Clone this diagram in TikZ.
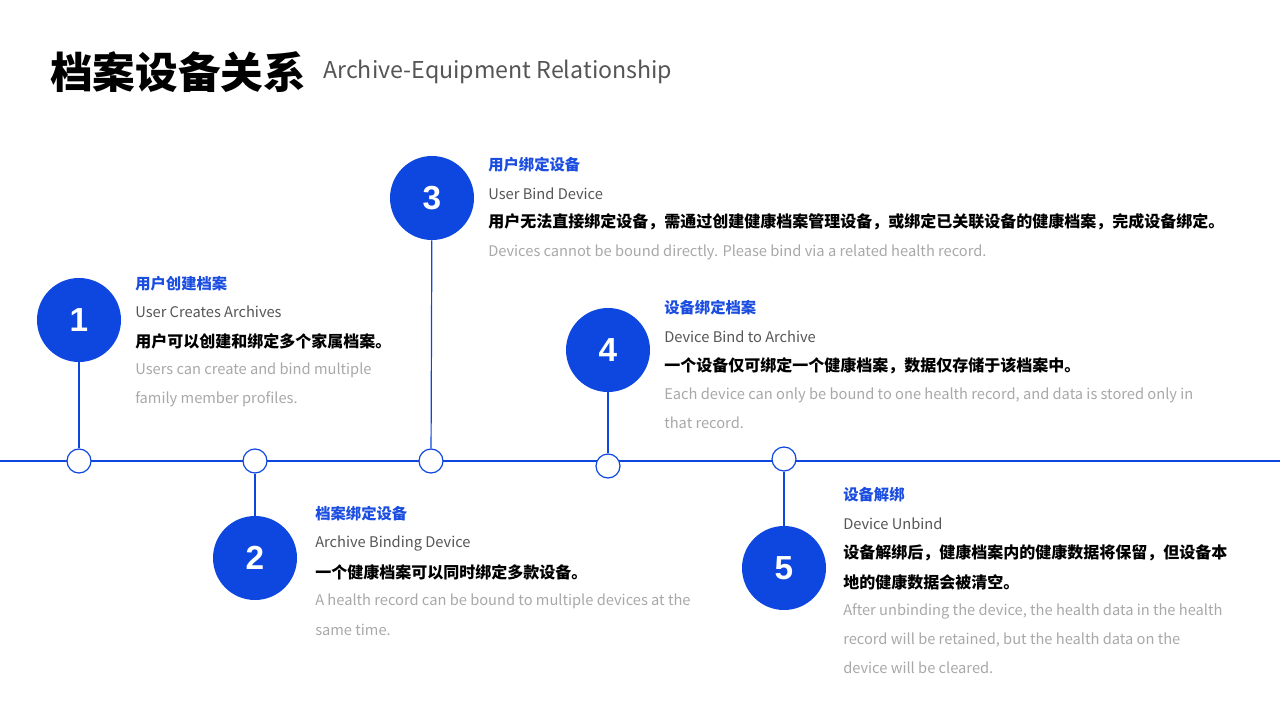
\documentclass[tikz,border=0pt]{standalone}
\usepackage{fontspec}
\setmainfont{Noto Sans CJK SC}
\newfontfamily\numfont{Liberation Sans}
\definecolor{blu}{HTML}{0D47E0}
\definecolor{ttl}{HTML}{1A4DE0}
\definecolor{gry}{HTML}{555555}
\definecolor{lgr}{HTML}{A8A8A8}
\begin{document}
\begin{tikzpicture}[x=0.75pt,y=-0.75pt,
 big/.style={circle,fill=blu,minimum size=63pt,inner sep=0,text=white,font=\numfont\fontsize{25}{25}\selectfont\bfseries},
 small/.style={circle,draw=blu,fill=white,line width=0.9pt,minimum size=18pt,inner sep=0},
 t/.style={anchor=west,inner sep=0,font=\fontsize{11.5}{13}\selectfont\bfseries,text=ttl},
 e/.style={anchor=west,inner sep=0,font=\fontsize{11}{13}\selectfont,text=gry},
 c/.style={anchor=west,inner sep=0,font=\fontsize{12}{13}\selectfont\bfseries,text=black},
 g/.style={anchor=west,inner sep=0,font=\fontsize{11}{13}\selectfont,text=lgr},
 ln/.style={draw=blu,line width=0.9pt}]
\useasboundingbox (0,0) rectangle (1280,720);
\node[anchor=west,inner sep=0,font=\fontsize{32}{32}\selectfont\bfseries] (title) at (50,72) {档案设备关系};
\node[anchor=west,inner sep=0,font=\fontsize{17.4}{17}\selectfont,text=gry] (sub) at (323,72) {Archive-Equipment Relationship};
\coordinate (L) at (0,461); \coordinate (R) at (1280,461);
\draw[ln] (L) -- (R);
\node[big] (b1) at (79,320) {1};
\node[big] (b2) at (255,558) {2};
\node[big] (b3) at (432,198) {3};
\node[big] (b4) at (608,350) {4};
\node[big] (b5) at (784,568) {5};
\node[small] (s1) at (79,461) {};
\node[small] (s2) at (255,461) {};
\node[small] (s3) at (431,461) {};
\node[small] (s4) at (608,466) {};
\node[small] (s5) at (784,459) {};
\draw[ln] (b1) -- (s1); \draw[ln] (b2) -- (s2); \draw[ln] (b3) -- (s3);
\draw[ln] (b4) -- (s4); \draw[ln] (b5) -- (s5);
% block 1
\node[t] (t1) at (135,284) {用户创建档案};
\node[e] (e1) at (135,312) {User Creates Archives};
\node[c] (c1) at (135,341) {用户可以创建和绑定多个家属档案。};
\node[g] (g1a) at (135,370) {Users can create and bind multiple};
\node[g] (g1b) at (135,399) {family member profiles.};
% block 3
\node[t] (t3) at (488,165) {用户绑定设备};
\node[e] (e3) at (488,194) {User Bind Device};
\node[c] (c3) at (488,222) {用户无法直接绑定设备，需通过创建健康档案管理设备，或绑定已关联设备的健康档案，完成设备绑定。};
\node[g] (g3) at (488,252) {Devices cannot be bound directly. Please bind via a related health record.};
% block 4
\node[t] (t4) at (664,308) {设备绑定档案};
\node[e] (e4) at (664,337) {Device Bind to Archive};
\node[c] (c4) at (664,366) {一个设备仅可绑定一个健康档案，数据仅存储于该档案中。};
\node[g] (g4a) at (664,395) {Each device can only be bound to one health record, and data is stored only in};
\node[g] (g4b) at (664,423) {that record.};
% block 2
\node[t] (t2) at (315,514) {档案绑定设备};
\node[e] (e2) at (315,543) {Archive Binding Device};
\node[c] (c2) at (315,572) {一个健康档案可以同时绑定多款设备。};
\node[g] (g2a) at (315,601) {A health record can be bound to multiple devices at the};
\node[g] (g2b) at (315,630) {same time.};
% block 5
\node[t] (t5) at (843,495) {设备解绑};
\node[e] (e5) at (843,524) {Device Unbind};
\node[c] (c5a) at (843,553) {设备解绑后，健康档案内的健康数据将保留，但设备本};
\node[c] (c5b) at (843,582) {地的健康数据会被清空。};
\node[g] (g5a) at (843,611) {After unbinding the device, the health data in the health};
\node[g] (g5b) at (843,640) {record will be retained, but the health data on the};
\node[g] (g5c) at (843,668) {device will be cleared.};
\end{tikzpicture}
\end{document}
